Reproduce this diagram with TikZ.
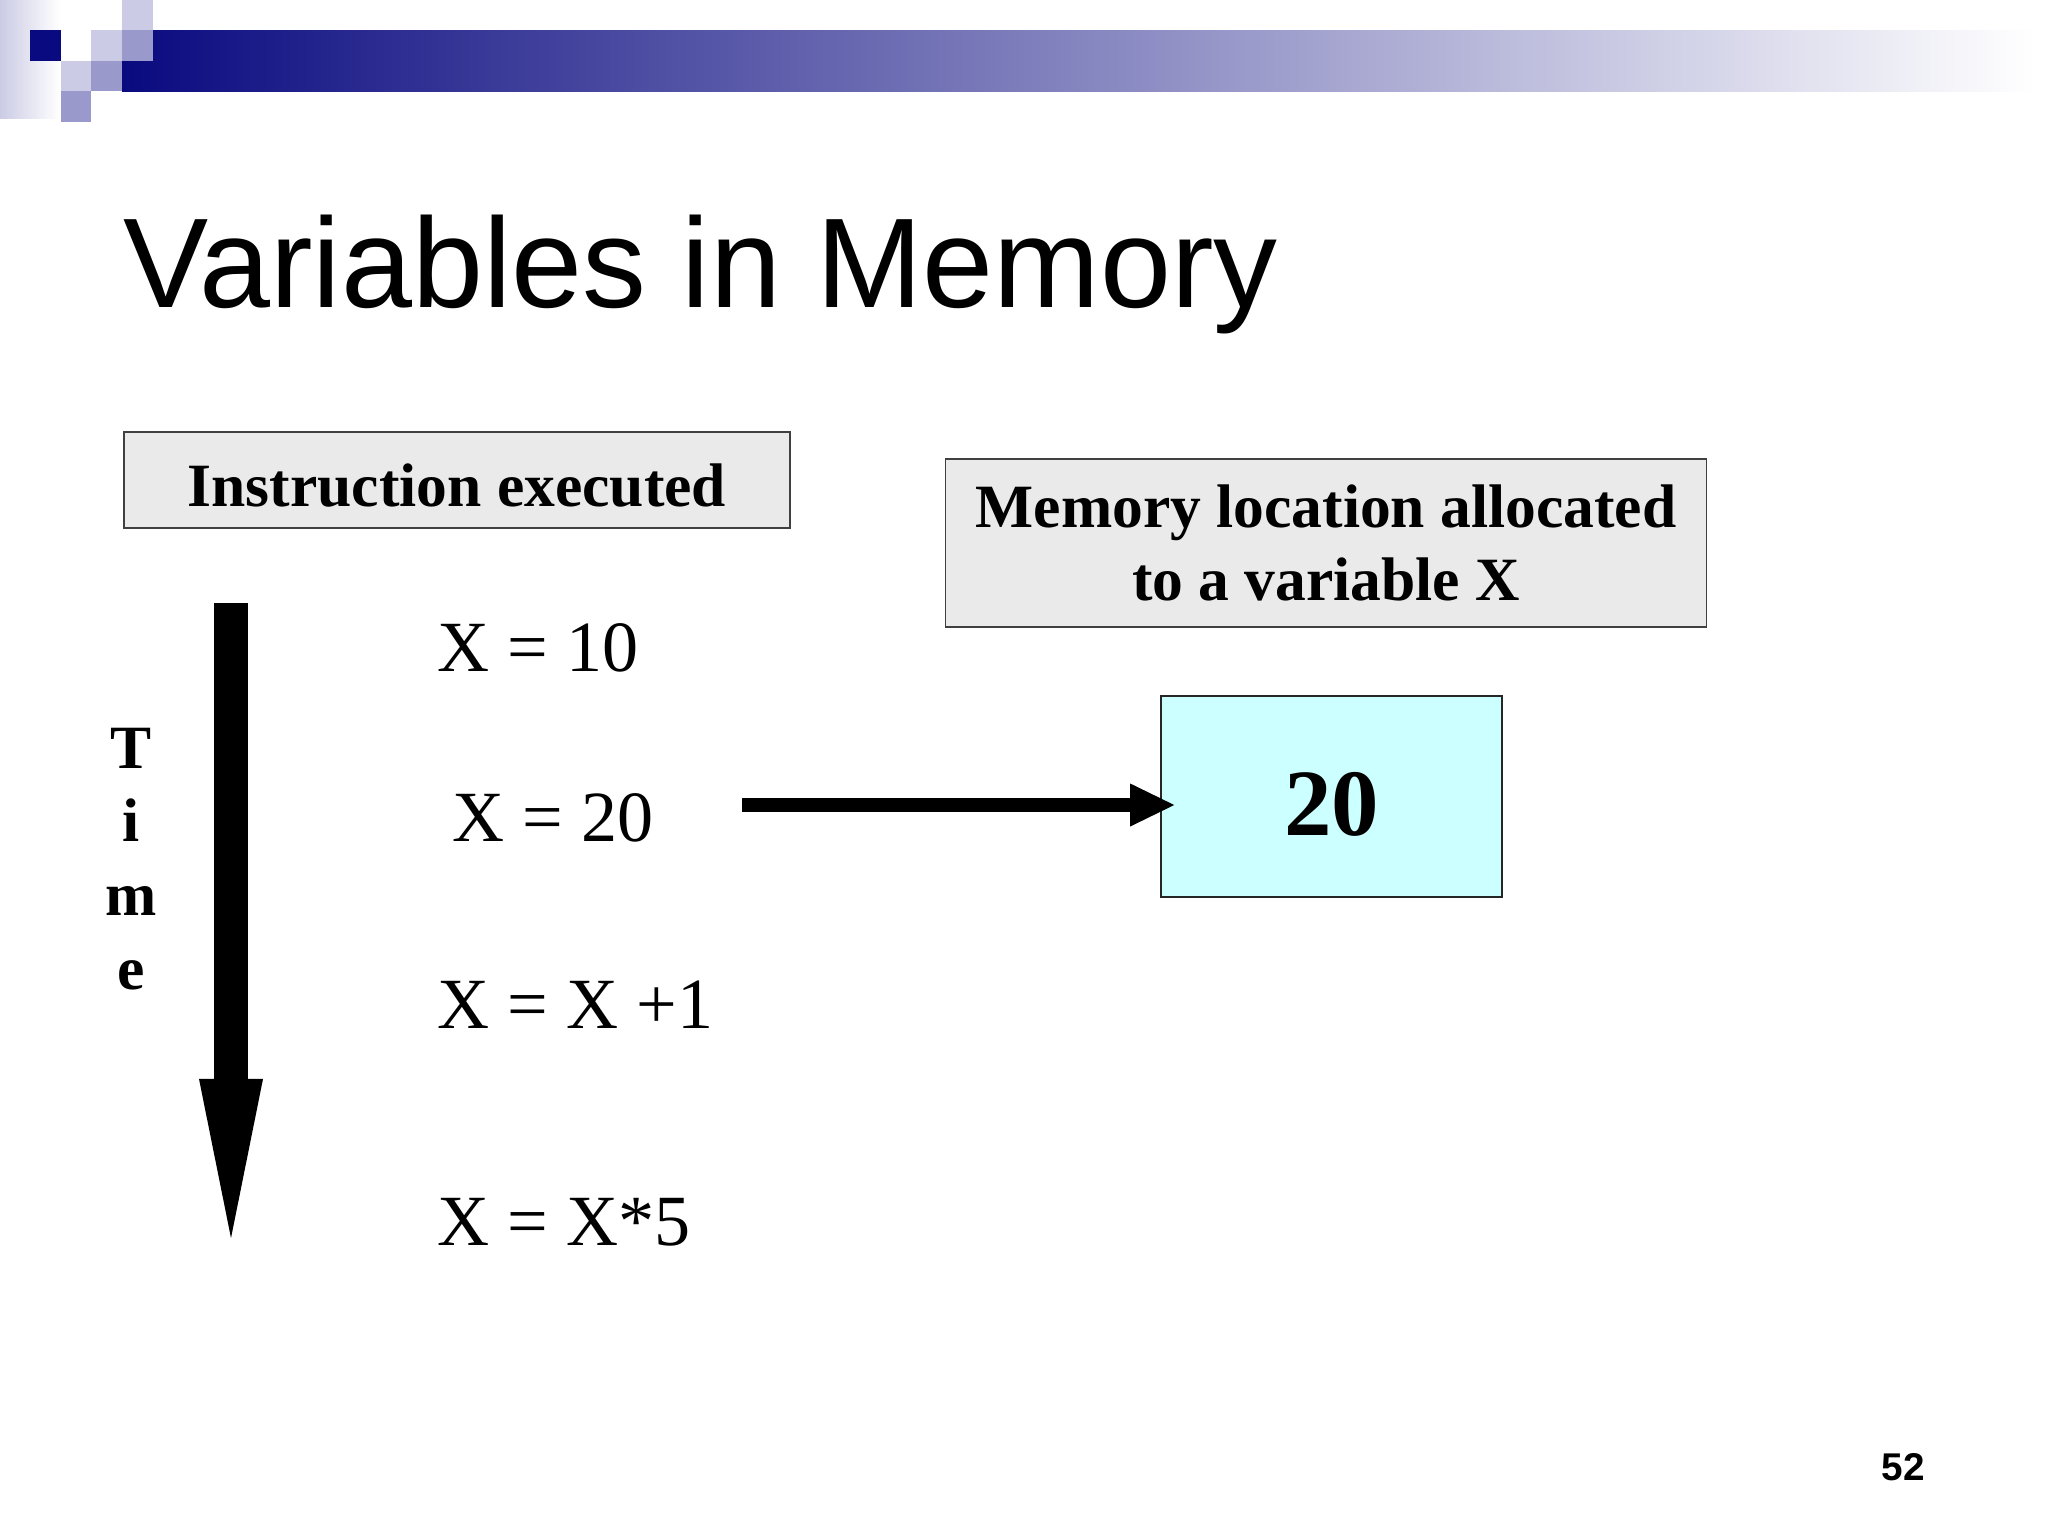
\documentclass[tikz,border=0pt]{standalone}
\usepackage{fontspec}
\setmainfont{Liberation Serif}
\setsansfont{Liberation Sans}
\usetikzlibrary{arrows.meta}
\definecolor{navy}{HTML}{0A0A80}
\definecolor{lav}{HTML}{CBCBE5}
\definecolor{lavd}{HTML}{9999CB}
\definecolor{boxg}{HTML}{EAEAEA}
\definecolor{cell}{HTML}{CCFFFF}
\tikzset{
  hdr/.style  = {rectangle, draw=black!75, fill=boxg, align=center, inner sep=0pt,
                 font=\fontsize{17.5}{21}\selectfont\bfseries},
  instr/.style = {anchor=base west, inner sep=0pt, font=\fontsize{20.5}{24}\selectfont},
  cellbox/.style = {rectangle, draw=black!85, fill=cell, minimum width=3.41cm,
                 minimum height=2.01cm, text height=0.79cm, inner sep=0pt,
                 font=\fontsize{27}{32}\selectfont\bfseries},
  fat/.style  = {line width=3.3mm, -{Triangle[length=15.9mm, width=6.4mm, line width=0pt]}},
  fl/.style   = {line width=1.4mm, -{Triangle[length=4.4mm, width=4.3mm, line width=0pt]}},
}

\begin{document}
\begin{tikzpicture}[x=0.01cm, y=-0.01cm]
  \useasboundingbox (0,0) rectangle (2048,1536);
  \fill[white] (0,0) rectangle (2048,1536);
  \shade[left color=lav, right color=white] (0,0) rectangle (60,118);
  \shade[left color=navy, right color=white] (122,30) rectangle (2035,91);
  \fill[navy] (30,30) rectangle (61,61);
  \fill[lav]  (61,61) rectangle (91,91);
  \fill[lavd] (61,91) rectangle (91,122);
  \fill[lav]  (91,30) rectangle (122,61);
  \fill[lavd] (91,61) rectangle (122,91);
  \fill[lav]  (122,0) rectangle (153,30);
  \fill[lavd] (122,30) rectangle (153,61);

  \node[anchor=base west, inner sep=0pt, font=\sffamily\fontsize{36.3}{43}\selectfont] (title) at (123,307) {Variables in Memory};

  \node[hdr, minimum width=6.66cm, minimum height=0.96cm, text height=0.52cm, text depth=0pt] (exec) at (457,480) {Instruction executed};
  \node[hdr, minimum width=7.60cm, minimum height=1.68cm] (loc) at (1326,543) {Memory location allocated\\ to a variable X};

  \node[anchor=north, inner sep=0pt, align=center, font=\fontsize{17.5}{21}\selectfont\bfseries] (time) at (131,727) {T\\ i\\ m\\ e};
  \coordinate (ttop) at (231,603);
  \coordinate (tbot) at (231,1238);
  \draw[fat] (ttop) -- (tbot);

  \node[instr] (x1) at (437,671) {X = 10};
  \node[instr] (x2) at (452,841) {X = 20};
  \node[instr] (x3) at (437,1028) {X = X +1};
  \node[instr] (x4) at (437,1245) {X = X*5};

  \node[cellbox] (mem) at (1331.5,796.5) {20};
  \coordinate (src) at (742,805);
  \draw[fl, shorten >=-1.4mm] (src) -- (src -| mem.west);

  \node[anchor=base west, inner sep=0pt, font=\sffamily\bfseries\fontsize{11}{13}\selectfont] (pg) at (1881,1480) {52};
\end{tikzpicture}
\end{document}
